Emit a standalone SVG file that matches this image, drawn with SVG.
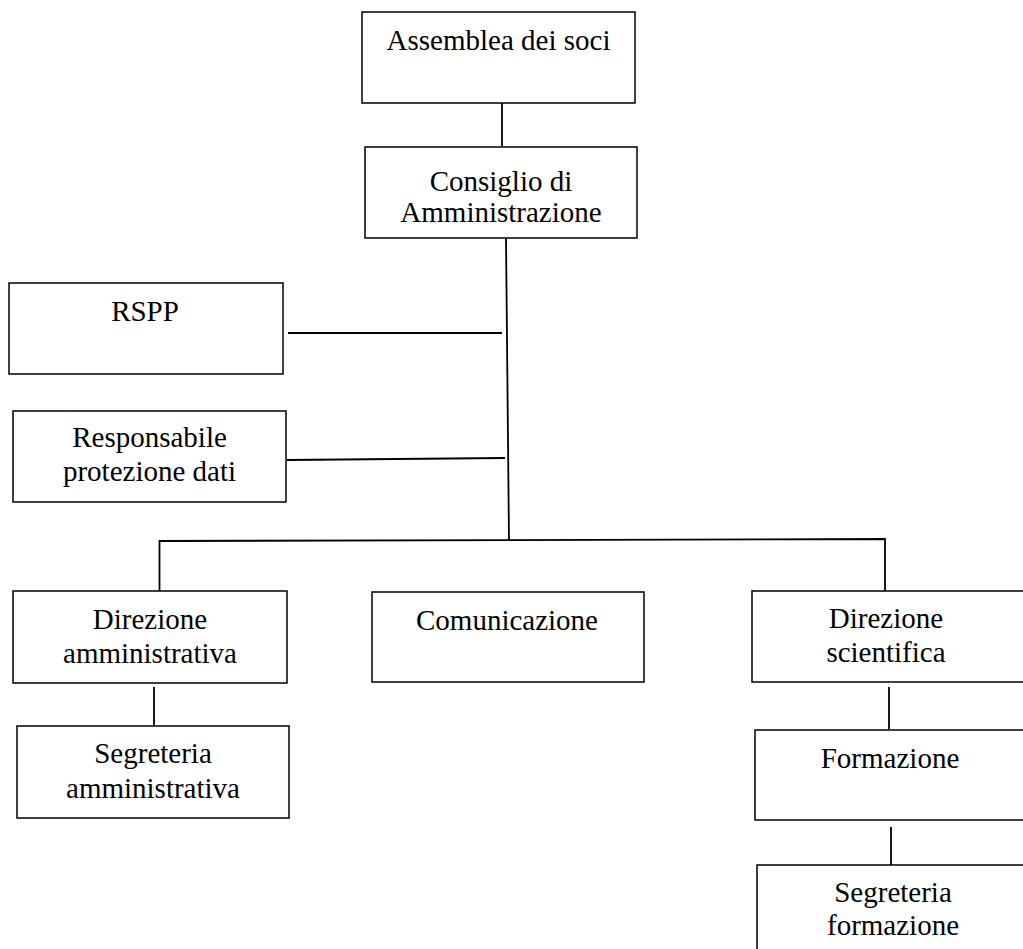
<svg xmlns="http://www.w3.org/2000/svg" width="1023" height="949" viewBox="0 0 1023 949">
<style>
.box{fill:#fff;stroke:#000;stroke-width:1.5}
.t{font-family:"Liberation Serif","Times New Roman",serif;font-size:29px;fill:#000;text-anchor:middle}
.c{stroke:#000;stroke-width:1.8;fill:none}
</style>
<rect width="1023" height="949" fill="#fff"/>
<g id="connectors">
<line class="c" x1="502" y1="103" x2="502" y2="146"/>
<line class="c" x1="506" y1="238" x2="509" y2="541"/>
<line class="c" x1="288" y1="333" x2="502" y2="333"/>
<line class="c" x1="287" y1="460" x2="505" y2="458"/>
<polyline class="c" points="159.5,593 159.5,541 885,539 885,591"/>
<line class="c" x1="154" y1="687" x2="154" y2="726"/>
<line class="c" x1="889" y1="687" x2="889" y2="729"/>
<line class="c" x1="891" y1="827" x2="891" y2="866"/>
</g>
<g id="assemblea">
<rect class="box" x="362" y="12" width="273" height="91"/>
<text class="t" x="498.5" y="50">Assemblea dei soci</text>
</g>
<g id="consiglio">
<rect class="box" x="365" y="147" width="272" height="91"/>
<text class="t" x="501" y="191">Consiglio di</text>
<text class="t" x="501" y="222">Amministrazione</text>
</g>
<g id="rspp">
<rect class="box" x="9" y="283" width="274" height="91"/>
<text class="t" x="145" y="321">RSPP</text>
</g>
<g id="responsabile">
<rect class="box" x="13" y="411" width="273" height="91"/>
<text class="t" x="149.5" y="447">Responsabile</text>
<text class="t" x="149.5" y="481">protezione dati</text>
</g>
<g id="direzione-amministrativa">
<rect class="box" x="13" y="591" width="274" height="92"/>
<text class="t" x="150" y="629">Direzione</text>
<text class="t" x="150" y="663">amministrativa</text>
</g>
<g id="segreteria-amministrativa">
<rect class="box" x="17" y="726" width="272" height="92"/>
<text class="t" x="153" y="763">Segreteria</text>
<text class="t" x="153" y="798">amministrativa</text>
</g>
<g id="comunicazione">
<rect class="box" x="372" y="592" width="272" height="90"/>
<text class="t" x="507" y="630">Comunicazione</text>
</g>
<g id="direzione-scientifica">
<rect class="box" x="752" y="591" width="280" height="91"/>
<text class="t" x="886" y="628">Direzione</text>
<text class="t" x="886" y="662">scientifica</text>
</g>
<g id="formazione">
<rect class="box" x="755" y="730" width="280" height="90"/>
<text class="t" x="890" y="768">Formazione</text>
</g>
<g id="segreteria-formazione">
<rect class="box" x="757" y="865" width="280" height="100"/>
<text class="t" x="893" y="902">Segreteria</text>
<text class="t" x="893" y="935">formazione</text>
</g>
</svg>
